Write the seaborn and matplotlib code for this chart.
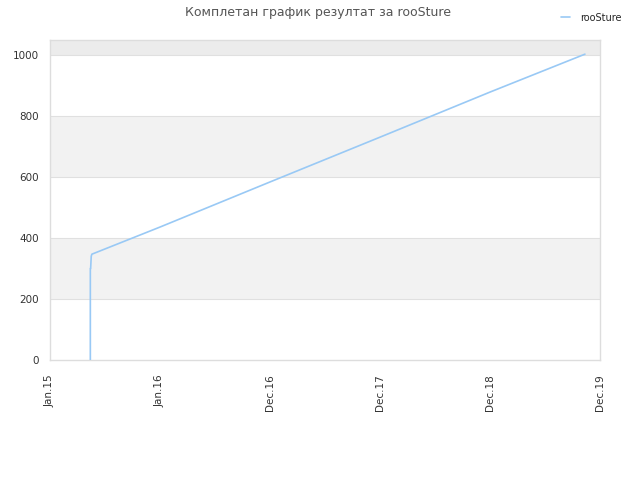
import pandas as pd
import matplotlib
matplotlib.use('Agg')
import matplotlib.pyplot as plt
import seaborn as sns

# data
dates = ['2015-05-15', '2015-05-15', '2015-05-15', '2015-05-16', '2015-05-17',
         '2015-05-18', '2015-05-20', '2016-01-01', '2016-12-31', '2017-12-31',
         '2018-12-31', '2019-11-10']
values = [0, 150, 300, 300, 320, 340, 347, 436, 584, 731, 879, 1003]
series_name = 'rooSture'
title = 'Комплетан график резултат за rooSture'
tick_dates = ['2015-01-01', '2016-01-01', '2016-12-31', '2017-12-31', '2018-12-31', '2019-12-31']
tick_labels = ['Jan.15', 'Jan.16', 'Dec.16', 'Dec.17', 'Dec.18', 'Dec.19']

df = pd.DataFrame({'date': pd.to_datetime(dates), 'value': values, 'player': series_name})

sns.set_style('white')
plt.rcParams['font.family'] = ['DejaVu Sans']

fig = plt.figure(figsize=(6.4, 4.8), dpi=100)
ax = fig.add_axes([0.078, 0.25, 0.86, 0.667])

# alternating bands
for lo, hi, c in [(200, 400, '#f2f2f2'), (600, 800, '#f2f2f2'), (1000, 1100, '#ececec')]:
    ax.axhspan(lo, hi, color=c, zorder=0, lw=0)
for yv in [200, 400, 600, 800, 1000]:
    ax.axhline(yv, color='#e0e0e0', lw=0.8, zorder=1)

sns.lineplot(data=df, x='date', y='value', hue='player', palette=['#99c9f5'],
             lw=1.2, ax=ax, legend=False, estimator=None, sort=False, zorder=3)

ax.set_ylim(0, 1050)
ax.set_xlim(pd.Timestamp('2015-01-01'), pd.Timestamp('2019-12-31'))
ax.set_yticks([0, 200, 400, 600, 800, 1000])
ax.set_xticks(pd.to_datetime(tick_dates))
ax.set_xticklabels(tick_labels, rotation=90)
ax.tick_params(axis='y', labelsize=7.5, colors='#333333', length=0, pad=8)
ax.tick_params(axis='x', labelsize=7.5, colors='#333333', length=0, pad=10)
ax.set_xlabel('')
ax.set_ylabel('')
for s in ax.spines.values():
    s.set_color('#dddddd')
    s.set_linewidth(1)

fig.text(0.497, 0.974, title, ha='center', va='center', fontsize=9, color='#555555')

handle = plt.Line2D([], [], color='#99c9f5', lw=1.2)
fig.legend([handle], [series_name], loc='upper right', bbox_to_anchor=(0.985, 0.992),
           frameon=False, fontsize=7, handlelength=1.0, handletextpad=1.0)

fig.savefig('out.png', dpi=100)
